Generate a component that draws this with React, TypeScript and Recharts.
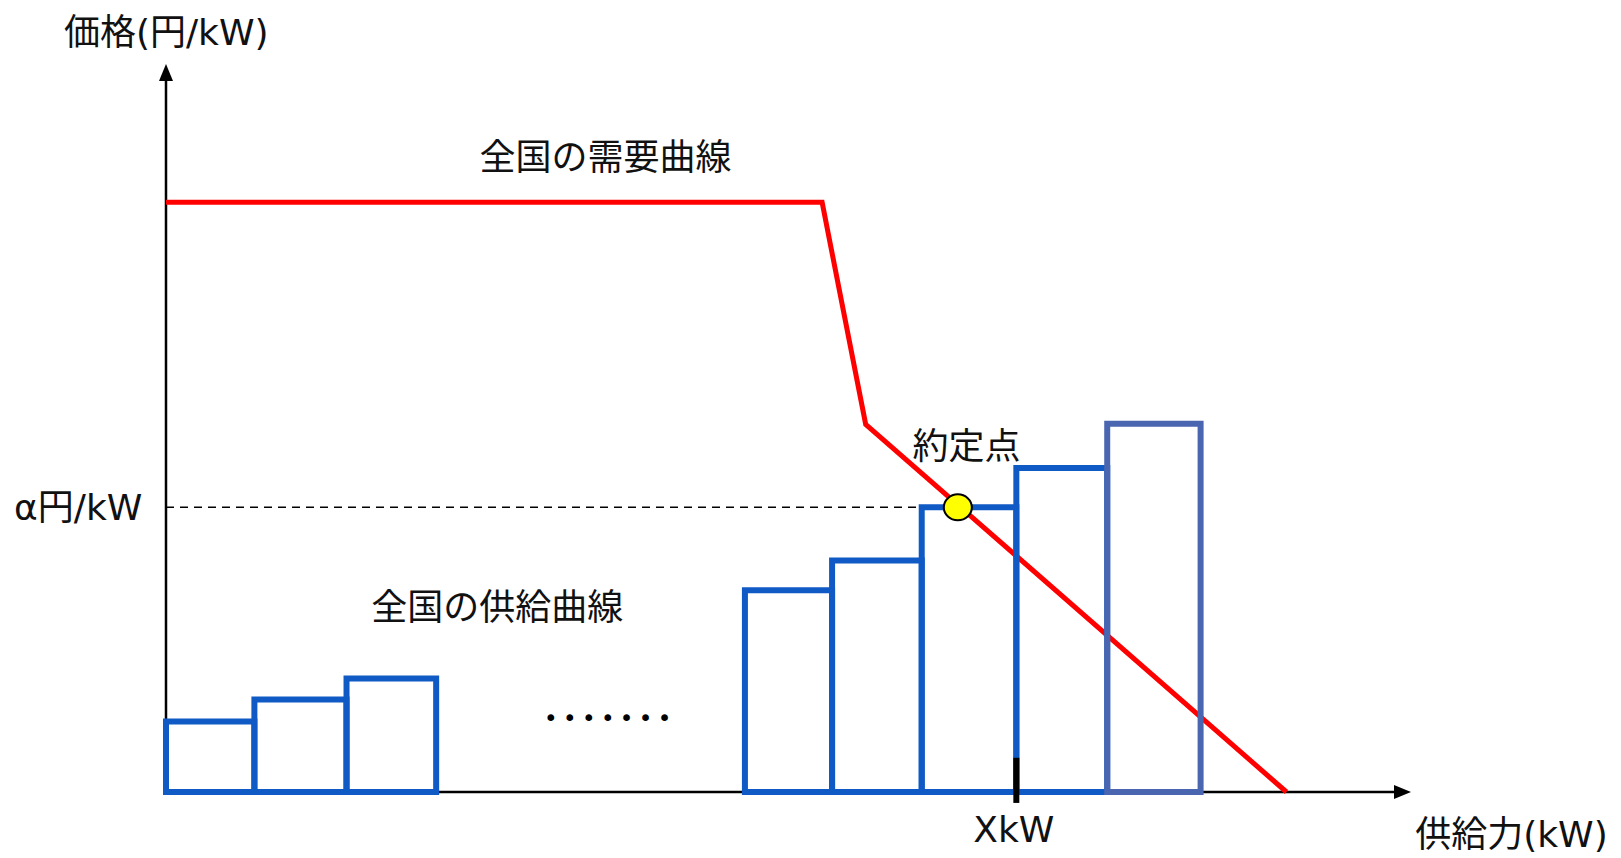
import React from "react"
import {
  ComposedChart,
  Line,
  Scatter,
  XAxis,
  YAxis,
  ReferenceLine,
} from "recharts"

// 供給ブロック: 左端, 右端, 価格 (単位は任意)
const supplyLeft = [0, 7.1, 14.5, 46.5, 53.5, 60.7, 68.3, 75.6]
const supplyRight = [7.1, 14.5, 21.7, 53.5, 60.7, 68.3, 75.6, 83.1]
const supplyPrice = [9.7, 12.7, 15.6, 27.7, 31.8, 39.1, 44.5, 50.6]

// 需要曲線
const demandQty = [0, 52.7, 56.2, 90]
const demandPrice = [81, 81, 50.5, 0]

const clearingQty = 63.6
const clearingPrice = 39.1
const tickQty = 68.3

const X_DOMAIN: [number, number] = [-13.333, 116.867]
const Y_DOMAIN: [number, number] = [-9.066, 108.79]

const demand = demandQty.map((x, i) => ({ x, y: demandPrice[i] }))
// 軸 (縦軸の先端 → 原点 → 横軸の先端)
const axisPath = [
  { x: 0, y: 98 },
  { x: 0, y: 0 },
  { x: 98.8, y: 0 },
]

// 各ブロックの外枠
const blocks = supplyLeft.map((l, i) => [
  { x: l, y: 0 },
  { x: l, y: supplyPrice[i] },
  { x: supplyRight[i], y: supplyPrice[i] },
  { x: supplyRight[i], y: 0 },
  { x: l, y: 0 },
])

const labels = [
  { x: -8.2, y: 104.3, text: "価格(円/kW)", anchor: "start" },
  { x: 35.3, y: 87.2, text: "全国の需要曲線", anchor: "middle" },
  { x: 26.6, y: 25.4, text: "全国の供給曲線", anchor: "middle" },
  { x: 64.3, y: 47.4, text: "約定点", anchor: "middle" },
  { x: -1.9, y: 39.1, text: "α円/kW", anchor: "end" },
  { x: 68.1, y: -5.2, text: "XkW", anchor: "middle" },
  { x: 115.8, y: -5.9, text: "供給力(kW)", anchor: "end" },
]

const arrows = [
  { x: 0, y: 100, dir: "up" },
  { x: 100, y: 0, dir: "right" },
]

const FONT = "'DejaVu Sans', 'Noto Sans CJK JP', sans-serif"

const LabelShape = (props: any) => {
  const { cx, cy, payload } = props
  return (
    <text
      x={cx}
      y={cy}
      textAnchor={payload.anchor}
      dominantBaseline="central"
      fontSize={36}
      fontFamily={FONT}
      fill="#111"
    >
      {payload.text}
    </text>
  )
}

const ArrowShape = (props: any) => {
  const { cx, cy, payload } = props
  const pts =
    payload.dir === "up"
      ? `${cx},${cy} ${cx - 7},${cy + 17} ${cx + 7},${cy + 17}`
      : `${cx},${cy} ${cx - 17},${cy - 7} ${cx - 17},${cy + 7}`
  return <polygon points={pts} fill="#000" />
}

const PointShape = (props: any) => {
  const { cx, cy } = props
  return <ellipse cx={cx} cy={cy} rx={14} ry={13} fill="#FFFF00" stroke="#000" strokeWidth={2} />
}

export default function App() {
  return (
    <div style={{ width: 1621, height: 858, background: "#fff" }}>
      <style>{`body{margin:0}`}</style>
      <ComposedChart width={1621} height={858} margin={{ top: 0, right: 0, bottom: 0, left: 0 }}>
        <XAxis type="number" dataKey="x" domain={X_DOMAIN} allowDataOverflow hide />
        <YAxis type="number" dataKey="y" domain={Y_DOMAIN} allowDataOverflow hide />

        <Line
          data={axisPath}
          dataKey="y"
          type="linear"
          stroke="#000"
          strokeWidth={2.5}
          dot={false}
          isAnimationActive={false}
        />

        <ReferenceLine
          segment={[{ x: 0, y: clearingPrice }, { x: supplyLeft[5], y: clearingPrice }]}
          stroke="#000"
          strokeWidth={1.5}
          strokeDasharray="8 6"
        />

        <Line
          data={demand}
          dataKey="y"
          type="linear"
          stroke="#FF0000"
          strokeWidth={5}
          dot={false}
          isAnimationActive={false}
        />

        {blocks.map((b, i) => (
          <Line
            key={i}
            data={b}
            dataKey="y"
            type="linear"
            stroke={i === blocks.length - 1 ? "#4A66B0" : "#105AC6"}
            strokeWidth={6}
            strokeLinecap="square"
            dot={false}
            isAnimationActive={false}
          />
        ))}

        <ReferenceLine
          segment={[{ x: tickQty, y: -1.5 }, { x: tickQty, y: 4.7 }]}
          stroke="#000"
          strokeWidth={6}
        />

        <Scatter data={arrows} dataKey="y" shape={ArrowShape} isAnimationActive={false} />
        <Scatter
          data={[{ x: clearingQty, y: clearingPrice }]}
          dataKey="y"
          shape={PointShape}
          isAnimationActive={false}
        />
        <Scatter data={labels} dataKey="y" shape={LabelShape} isAnimationActive={false} />
      </ComposedChart>
      <div
        style={{
          position: "absolute",
          left: 544,
          top: 705,
          fontFamily: "'DejaVu Sans', sans-serif",
          fontSize: 23,
          letterSpacing: 5.4,
          color: "#000",
        }}
      >
        •••••••
      </div>
    </div>
  )
}
